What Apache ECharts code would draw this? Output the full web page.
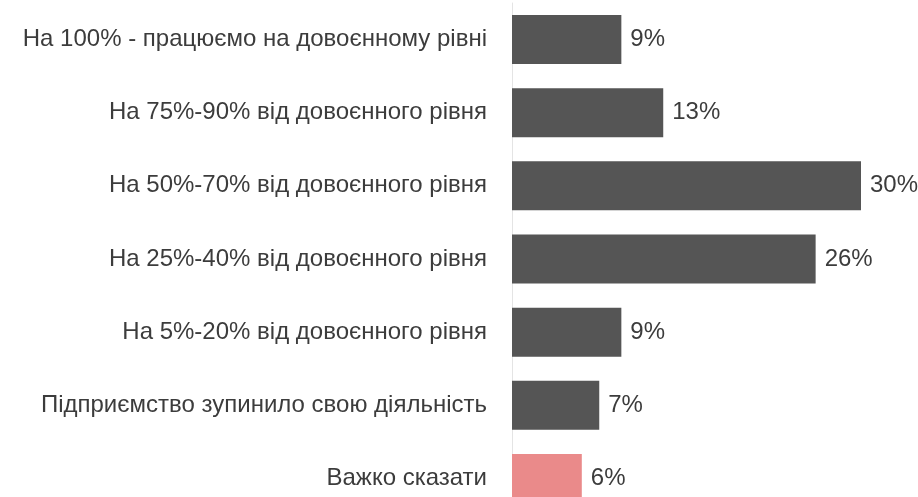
<!DOCTYPE html>
<html>
<head>
<meta charset="utf-8">
<script src="https://cdn.jsdelivr.net/npm/echarts@6/dist/echarts.min.js"></script>
<style>html,body{margin:0;padding:0;background:#fff}#c{width:918px;height:497px}</style>
</head>
<body>
<div id="c"></div>
<script>
const categories = [
  "На 100% - працюємо на довоєнному рівні",
  "На 75%-90% від довоєнного рівня",
  "На 50%-70% від довоєнного рівня",
  "На 25%-40% від довоєнного рівня",
  "На 5%-20% від довоєнного рівня",
  "Підприємство зупинило свою діяльність",
  "Важко сказати"
];
const values = [9.4, 13.0, 30.0, 26.1, 9.4, 7.5, 6.0];
const labels = ["9%", "13%", "30%", "26%", "9%", "7%", "6%"];
const colors = ["#555555", "#555555", "#555555", "#555555", "#555555", "#555555", "#ea8a8a"];

const chart = echarts.init(document.getElementById('c'));
chart.setOption({
  animation: false,
  grid: { left: 512, right: 57, top: 3, bottom: -18, outerBoundsMode: 'none', containLabel: false },
  xAxis: { type: 'value', min: 0, max: 30, show: false },
  yAxis: {
    type: 'category', inverse: true, data: categories,
    axisLine: { show: true, lineStyle: { color: '#e4e4e4', width: 1 } },
    axisTick: { show: false },
    axisLabel: { color: '#3c3c3c', fontSize: 24, fontFamily: 'Liberation Sans, Arial, sans-serif', margin: 25 }
  },
  series: [{
    type: 'bar', barCategoryGap: '33%',
    data: values.map((v, i) => ({ value: v, itemStyle: { color: colors[i] } })),
    label: {
      show: true, position: 'right', distance: 9,
      color: '#3c3c3c', fontSize: 24, fontFamily: 'Liberation Sans, Arial, sans-serif',
      formatter: p => labels[p.dataIndex]
    }
  }]
});
</script>
</body>
</html>
